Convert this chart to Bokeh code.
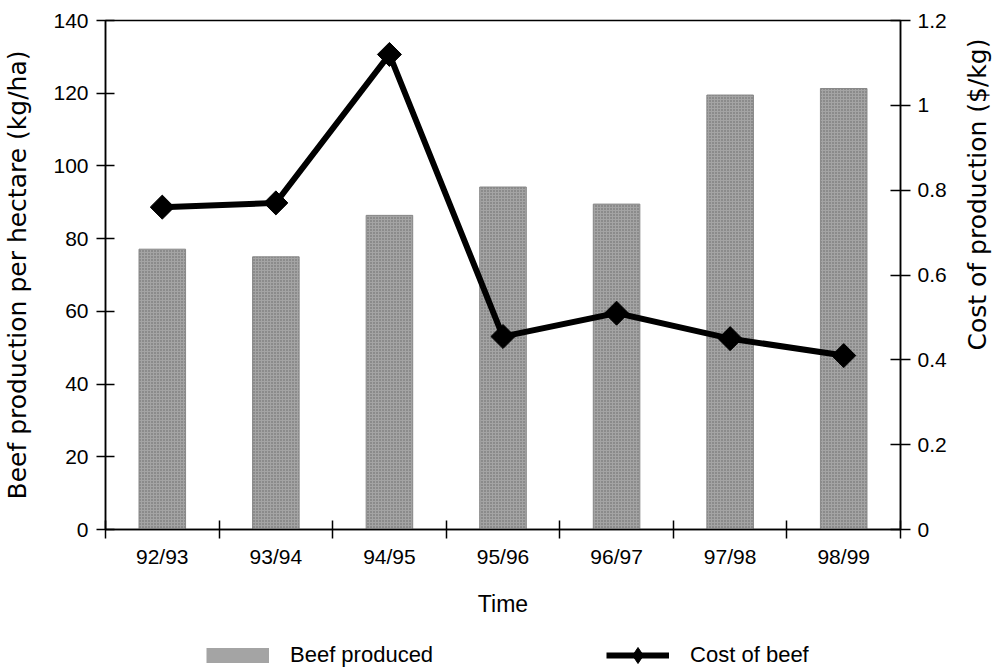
import math
from bokeh.plotting import figure
from bokeh.layouts import column, row
from bokeh.models import (Range1d, LinearAxis, FixedTicker, CustomJSTickFormatter,
                          Legend, LegendItem, Label)
from bokeh.embed import file_html
from bokeh.resources import INLINE

# ---------------- data ----------------
seasons = ["92/93", "93/94", "94/95", "95/96", "96/97", "97/98", "98/99"]
beef_produced = [77.1, 75.0, 86.4, 94.2, 89.5, 119.5, 121.3]      # kg/ha
cost_of_beef = [0.76, 0.77, 1.12, 0.455, 0.51, 0.45, 0.41]        # $/kg
left_ticks = [0, 20, 40, 60, 80, 100, 120, 140]
right_ticks = [0, 0.2, 0.4, 0.6, 0.8, 1, 1.2]
left_title = "Beef production per hectare (kg/ha)"
right_title = "Cost of production ($/kg)"
x_title = "Time"
legend_labels = ["Beef produced", "Cost of beef"]

n = len(seasons)
centers = [i + 0.5 for i in range(n)]
bounds = list(range(n + 1))

TICK_FONT = "Liberation Sans"
TITLE_FONT = "DejaVu Sans"
BAR_GREY = "#a4a4a4"

MAIN_H = 627
p = figure(width=962, height=MAIN_H, output_backend="svg", toolbar_location=None,
           x_range=Range1d(0, n), y_range=Range1d(0, 140),
           min_border_left=104, min_border_right=62,
           min_border_top=20, min_border_bottom=MAIN_H - 529)
p.extra_y_ranges = {"cost": Range1d(0, 1.2)}
p.xgrid.grid_line_color = None
p.ygrid.grid_line_color = None
p.outline_line_color = "black"
p.outline_line_width = 1.5
p.background_fill_color = "white"
p.border_fill_color = "white"

# bars
p.vbar(x=centers, top=beef_produced, width=0.41, fill_color=BAR_GREY,
       line_color="#888888", line_width=1,
       hatch_pattern="dot", hatch_color="#666666", hatch_scale=3, hatch_weight=1)

# line + diamond markers
p.line(x=centers, y=cost_of_beef, y_range_name="cost", line_color="black",
       line_width=6, line_join="miter")
p.scatter(x=centers, y=cost_of_beef, y_range_name="cost", marker="square",
          angle=math.pi / 4, size=17, fill_color="black", line_color="black")

# ---------------- axes ----------------
xa = p.xaxis[0]
xa.ticker = FixedTicker(ticks=centers, minor_ticks=bounds)
xa.formatter = CustomJSTickFormatter(args=dict(labels=seasons),
                                     code="return labels[Math.floor(tick)];")
xa.major_tick_in = 0
xa.major_tick_out = 0
xa.minor_tick_in = 9
xa.minor_tick_out = 9
xa.minor_tick_line_color = "black"
xa.minor_tick_line_width = 1.5
xa.axis_line_width = 1.5
xa.axis_line_color = "black"
xa.major_label_standoff = 6
xa.major_label_text_font = TICK_FONT
xa.major_label_text_font_size = "21px"
xa.major_label_text_color = "black"
xa.axis_label = x_title
xa.axis_label_text_font = TICK_FONT
xa.axis_label_text_font_size = "23px"
xa.axis_label_text_font_style = "normal"
xa.axis_label_text_color = "black"
xa.axis_label_standoff = 20

ya = p.yaxis[0]
ya.ticker = FixedTicker(ticks=left_ticks)
ya.minor_tick_line_color = None
ya.major_tick_in = 9
ya.major_tick_out = 9
ya.major_tick_line_width = 1.5
ya.major_tick_line_color = "black"
ya.axis_line_width = 1.5
ya.axis_line_color = "black"
ya.major_label_standoff = 8
ya.major_label_text_font = TICK_FONT
ya.major_label_text_font_size = "21px"
ya.major_label_text_color = "black"
ya.axis_label = left_title
ya.axis_label_text_font = TITLE_FONT
ya.axis_label_text_font_size = "25px"
ya.axis_label_text_font_style = "normal"
ya.axis_label_text_color = "black"
ya.axis_label_standoff = 18

ra = LinearAxis(y_range_name="cost")
ra.ticker = FixedTicker(ticks=right_ticks)
ra.formatter = CustomJSTickFormatter(code="return String(tick);")
ra.minor_tick_line_color = None
ra.major_tick_in = 10
ra.major_tick_out = 10
ra.major_tick_line_width = 1.5
ra.major_tick_line_color = "black"
ra.axis_line_width = 1.5
ra.axis_line_color = "black"
ra.major_label_standoff = 7
ra.major_label_text_font = TICK_FONT
ra.major_label_text_font_size = "21px"
ra.major_label_text_color = "black"
p.add_layout(ra, "right")

# ---------------- right-hand title (reads bottom to top) ----------------
tf = figure(width=37, height=MAIN_H, output_backend="svg", toolbar_location=None,
            x_range=Range1d(0, 1), y_range=Range1d(0, 1),
            x_axis_location=None, y_axis_location=None, min_border=0)
tf.xgrid.grid_line_color = None
tf.ygrid.grid_line_color = None
tf.outline_line_color = None
tf.add_layout(Label(x=15, y=MAIN_H - 292, x_units="screen", y_units="screen",
                    text=right_title, angle=math.pi / 2,
                    text_align="center", text_baseline="middle",
                    text_font=TITLE_FONT, text_font_size="25px", text_color="black"))

# ---------------- legend strip ----------------
# legend-only renderers: their points lie outside the strip's visible range
LEG_H = 667 - MAIN_H
lf = figure(width=999, height=LEG_H, output_backend="svg", toolbar_location=None,
            x_range=Range1d(0, 1), y_range=Range1d(0, 1),
            x_axis_location=None, y_axis_location=None, min_border=0)
lf.xgrid.grid_line_color = None
lf.ygrid.grid_line_color = None
lf.outline_line_color = None
off = [-5, -4]
leg_bar = lf.line(x=off, y=off, line_color=BAR_GREY, line_width=15)
leg_line = lf.line(x=off, y=off, line_color="black", line_width=6)
leg_mark = lf.scatter(x=off, y=off, marker="diamond",
                      fill_color="black", line_color="black")
legend = Legend(items=[LegendItem(label=legend_labels[0], renderers=[leg_bar]),
                       LegendItem(label=legend_labels[1], renderers=[leg_line, leg_mark])],
                orientation="horizontal", location=(206, -8),
                glyph_width=63, glyph_height=LEG_H, label_standoff=21, spacing=173,
                padding=0, margin=0, border_line_alpha=0, background_fill_alpha=0,
                label_text_font=TICK_FONT, label_text_font_size="22px",
                label_text_color="black")
lf.add_layout(legend, "center")

layout = column(row(p, tf), lf)
open("out.html", "w").write(file_html(layout, INLINE))
